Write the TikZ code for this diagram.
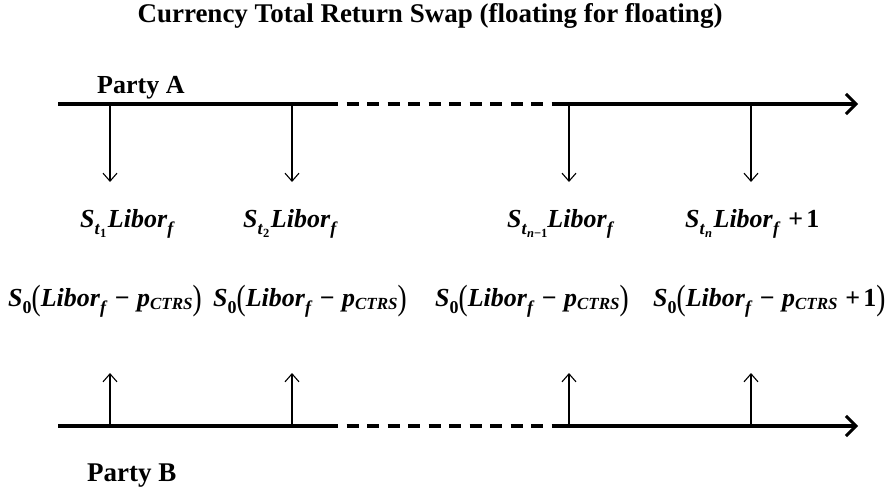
\documentclass[tikz,border=0pt]{standalone}
\usepackage{fontspec}
\setmainfont{Liberation Serif}
\usepackage{graphicx}
\usetikzlibrary{arrows.meta}
\newcommand{\bi}[1]{\textbf{\textit{#1}}}
\newcommand{\lsub}[1]{\raisebox{-0.3em}{\fontsize{18}{18}\selectfont #1}}
\newcommand{\lsubc}[1]{\raisebox{-0.14em}{\fontsize{17}{17}\selectfont #1}}
\newcommand{\lsubsub}[1]{\raisebox{-0.14em}{\fontsize{12.5}{12.5}\selectfont #1}}
\newcommand{\lpar}[1]{\raisebox{-0.15em}{\scalebox{1.05}[1.35]{\mdseries\upshape #1}}}
\newcommand{\mminus}{\hspace{0.28em}\textbf{−}\hspace{0.28em}}
\newcommand{\pone}{\hspace{0.3em}\textbf{+}\hspace{0.12em}\textbf{1}}
\tikzset{
  timeline/.style={line width=3.5pt},
  tldash/.style={line width=3.5pt, dash pattern=on 12pt off 8.5pt},
  tlarrow/.style={line width=3.5pt, -{Straight Barb[length=10pt,width=20pt,line width=3pt]}},
  flow/.style={line width=1.2pt, -{Straight Barb[length=8pt,width=14pt,line width=1.1pt]}},
  party/.style={font=\fontsize{26}{26}\selectfont\bfseries, anchor=base west, inner sep=0pt},
  amount/.style={font=\fontsize{26}{26}\selectfont, anchor=base west, inner sep=0pt}
}
\begin{document}
\begin{tikzpicture}[x=1pt,y=-1pt]
\useasboundingbox (0,0) rectangle (896,487);
% title
\node[party, font=\fontsize{27}{27}\selectfont\bfseries, anchor=base] (title) at (430,23) {Currency Total Return Swap (floating for floating)};
\node[party] (pA) at (97,93) {Party A};
\node[party, font=\fontsize{27}{27}\selectfont\bfseries] (pB) at (87,481) {Party B};
% top timeline
\coordinate (tA0) at (58,104);
\coordinate (tA1) at (326,104);
\coordinate (tA2) at (552,104);
\coordinate (tA3) at (858,104);
\draw[timeline] (tA0) -- (tA1);
\draw[tldash] (tA1) -- (tA2);
\draw[tlarrow] (tA2) -- (tA3);
% bottom timeline
\coordinate (tB0) at (58,426);
\coordinate (tB1) at (326,426);
\coordinate (tB2) at (552,426);
\coordinate (tB3) at (858,426);
\draw[timeline] (tB0) -- (tB1);
\draw[tldash] (tB1) -- (tB2);
\draw[tlarrow] (tB2) -- (tB3);
% payments
\foreach \i/\x in {1/110,2/292,3/569,4/751}{
  \coordinate (ua\i) at (\x,104);
  \coordinate (ue\i) at (\x,182);
  \draw[flow] (ua\i) -- (ue\i);
  \coordinate (db\i) at (\x,426);
  \coordinate (de\i) at (\x,373);
  \draw[flow] (db\i) -- (de\i);
}
% top labels
\node[amount] (la1) at (80,227) {\bi{S}\lsub{\bi{t}\lsubsub{\textbf{1}}}\hspace{0.06em}\bi{Libor}\lsub{\bi{f}}};
\node[amount] (la2) at (243,227) {\bi{S}\lsub{\bi{t}\lsubsub{\textbf{2}}}\hspace{0.06em}\bi{Libor}\lsub{\bi{f}}};
\node[amount] (la3) at (507,227) {\bi{S}\lsub{\bi{t}\lsubsub{\bi{n}\textbf{−1}}}\bi{Libor}\lsub{\bi{f}}};
\node[amount] (la4) at (685,227) {\bi{S}\lsub{\bi{t}\lsubsub{\bi{n}}}\hspace{0.06em}\bi{Libor}\lsub{\bi{f}}\pone};
% bottom labels
\node[amount] (lb1) at (8,306) {\bi{S}\lsub{\textbf{0}}\lpar{(}\bi{Libor}\lsub{\bi{f}}\mminus\bi{p}\lsubc{\bi{CTRS}}\lpar{)}};
\node[amount] (lb2) at (213,306) {\bi{S}\lsub{\textbf{0}}\lpar{(}\bi{Libor}\lsub{\bi{f}}\mminus\bi{p}\lsubc{\bi{CTRS}}\lpar{)}};
\node[amount] (lb3) at (435,306) {\bi{S}\lsub{\textbf{0}}\lpar{(}\bi{Libor}\lsub{\bi{f}}\mminus\bi{p}\lsubc{\bi{CTRS}}\lpar{)}};
\node[amount] (lb4) at (653,306) {\bi{S}\lsub{\textbf{0}}\lpar{(}\bi{Libor}\lsub{\bi{f}}\mminus\bi{p}\lsubc{\bi{CTRS}}\pone\lpar{)}};
\end{tikzpicture}
\end{document}
